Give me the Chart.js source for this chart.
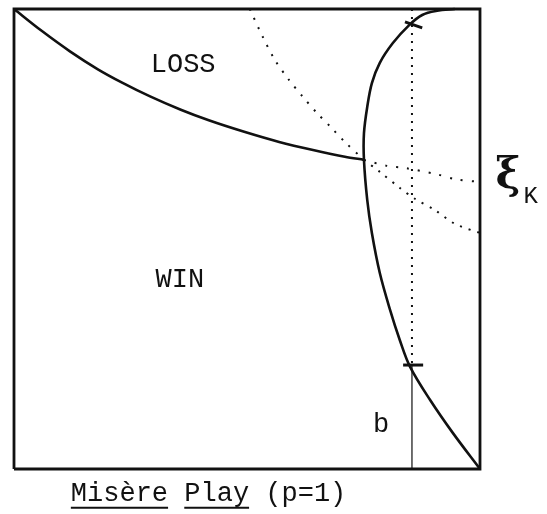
<!DOCTYPE html>
<html>
<head>
<meta charset="utf-8">
<script src="https://cdn.jsdelivr.net/npm/chart.js@4"></script>
<style>
  html, body { margin: 0; padding: 0; background: #fff; }
  #wrap { width: 547px; height: 514px; }
</style>
</head>
<body>
<div id="wrap"><canvas id="c" width="547" height="514"></canvas></div>
<script>
// Unit square frame of the phase diagram
const frameX = [0, 1, 1, 0, 0];
const frameY = [0, 0, 1, 1, 0];

// Boundary between LOSS (above) and WIN (below), from the top-left corner to the meeting point
const lossEdgeX = [0, 0.060, 0.120, 0.180, 0.232, 0.292, 0.358, 0.418, 0.494, 0.569, 0.644, 0.710, 0.751];
const lossEdgeY = [1, 0.952, 0.908, 0.869, 0.840, 0.810, 0.781, 0.758, 0.733, 0.711, 0.693, 0.679, 0.672];

// Bent boundary on the right, from the top edge to the bottom-right corner
const bendX = [0.946, 0.908, 0.876, 0.848, 0.813, 0.785, 0.768, 0.758, 0.751, 0.751, 0.758, 0.768, 0.785, 0.807, 0.828, 0.850, 0.893, 0.942, 1.0];
const bendY = [1.0, 0.996, 0.987, 0.965, 0.926, 0.883, 0.839, 0.787, 0.730, 0.672, 0.585, 0.513, 0.426, 0.346, 0.280, 0.222, 0.150, 0.078, 0.0];

// Dotted continuations through the meeting point
const dotUpperX = [0.506, 0.534, 0.560, 0.590, 0.620, 0.650, 0.680, 0.710, 0.751];
const dotUpperY = [1.0, 0.939, 0.889, 0.846, 0.809, 0.774, 0.743, 0.711, 0.672];
const dotRightX = [0.751, 0.800, 0.841, 0.906, 0.948, 1.0];
const dotRightY = [0.672, 0.659, 0.654, 0.641, 0.630, 0.624];
const dotLowX = [0.751, 0.785, 0.828, 0.861, 0.903, 0.946, 1.0];
const dotLowY = [0.672, 0.646, 0.611, 0.587, 0.563, 0.533, 0.513];

// Vertical marker at b and the two ticks on the bent boundary
const bValue = 0.854;
const bTickY = 0.226;
const lowTickX = [0.835, 0.878];
const lowTickY = [0.226, 0.226];
const topTickX = [0.839, 0.876];
const topTickY = [0.972, 0.959];

const zip = (xs, ys) => xs.map((x, i) => ({ x, y: ys[i] }));
const INK = '#111';

function solid(data, width) {
  return { data, borderColor: INK, borderWidth: width, pointRadius: 0, tension: 0.35, fill: false, clip: false, showLine: true };
}
function dotted(data, dash) {
  return { data, borderColor: INK, borderWidth: 2, borderDash: dash, pointRadius: 0, tension: 0.3, fill: false, clip: false, showLine: true };
}

const datasets = [
  Object.assign(solid(zip(frameX, frameY), 2.8), { tension: 0 }),
  Object.assign(solid(zip(lossEdgeX, lossEdgeY), 2.6), { cubicInterpolationMode: 'monotone' }),
  solid(zip(bendX, bendY), 2.6),
  dotted(zip(dotUpperX, dotUpperY), [2, 8]),
  dotted(zip(dotRightX, dotRightY), [2, 9]),
  dotted(zip(dotLowX, dotLowY), [2, 7]),
  Object.assign(dotted(zip([bValue, bValue], [1, bTickY]), [2, 6]), { tension: 0 }),
  Object.assign(solid(zip([bValue, bValue], [bTickY, 0]), 1.2), { tension: 0 }),
  Object.assign(solid(zip(lowTickX, lowTickY), 3), { tension: 0 }),
  Object.assign(solid(zip(topTickX, topTickY), 3), { tension: 0 })
];

// Text placed in data units
const labels = [
  { text: 'LOSS', x: 0.363, y: 0.878, font: '27px "Liberation Mono"', align: 'center' },
  { text: 'WIN', x: 0.356, y: 0.411, font: '27px "Liberation Mono"', align: 'center' },
  { text: 'b', x: 0.788, y: 0.096, font: '27px "Liberation Mono"', align: 'center' },
  { text: 'ξ', x: 1.060, y: 0.635, font: 'bold 42px "DejaVu Serif"', align: 'center' },
  { text: 'K', x: 1.109, y: 0.593, font: '24px "Liberation Mono"', align: 'center' }
];
const caption = { words: ['Misère', 'Play', '(p=1)'], underline: [true, true, false], x: 0.122, y: -0.054, font: '27px "Liberation Mono"' };

const textPlugin = {
  id: 'diagramText',
  afterDatasetsDraw(chart) {
    const { ctx, scales: { x: sx, y: sy } } = chart;
    ctx.save();
    ctx.fillStyle = INK;
    ctx.strokeStyle = INK;
    ctx.textBaseline = 'middle';
    labels.forEach(l => {
      ctx.font = l.font;
      ctx.textAlign = l.align;
      ctx.fillText(l.text, sx.getPixelForValue(l.x), sy.getPixelForValue(l.y));
    });
    ctx.font = caption.font;
    ctx.textAlign = 'left';
    let px = sx.getPixelForValue(caption.x);
    const py = sy.getPixelForValue(caption.y);
    const space = ctx.measureText(' ').width;
    caption.words.forEach((w, i) => {
      const wd = ctx.measureText(w).width;
      ctx.fillText(w, px, py);
      if (caption.underline[i]) {
        ctx.lineWidth = 2;
        ctx.beginPath();
        ctx.moveTo(px, py + 14);
        ctx.lineTo(px + wd, py + 14);
        ctx.stroke();
      }
      px += wd + space;
    });
    ctx.restore();
  }
};

new Chart(document.getElementById('c'), {
  type: 'scatter',
  data: { datasets },
  options: {
    responsive: false,
    animation: false,
    layout: { padding: { left: 14, top: 9, right: 67, bottom: 45 } },
    plugins: { legend: { display: false }, tooltip: { enabled: false } },
    scales: {
      x: { type: 'linear', min: 0, max: 1, display: false },
      y: { type: 'linear', min: 0, max: 1, display: false }
    }
  },
  plugins: [textPlugin]
});
</script>
</body>
</html>
